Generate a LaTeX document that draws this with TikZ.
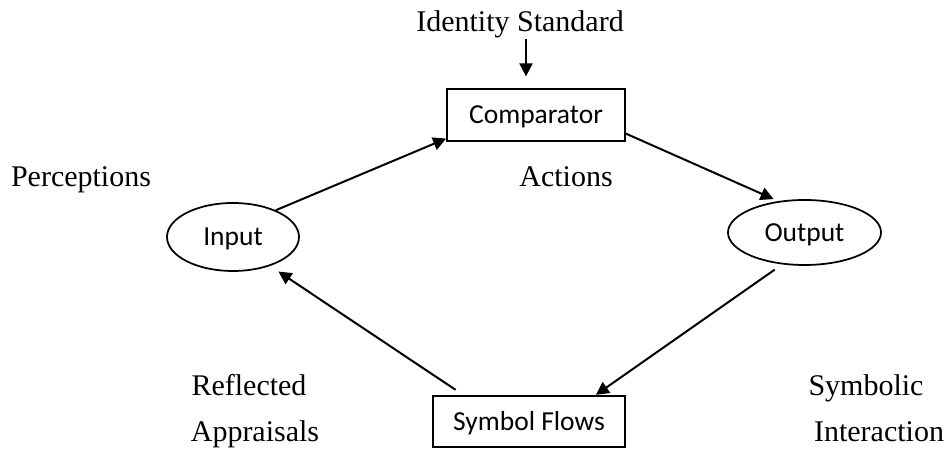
\documentclass[tikz,border=0pt]{standalone}
\usepackage{fontspec}
\setmainfont{Liberation Serif}
\newfontfamily\boxfont{Carlito}
\usetikzlibrary{arrows.meta,shapes.geometric}

\begin{document}
\begin{tikzpicture}[
  x=0.4pt, y=-0.4pt,
  font=\fontsize{12}{14}\selectfont,
  word/.style={anchor=base, inner sep=0pt},
  box/.style={
    draw, line width=0.7pt, inner sep=0pt,
    font=\boxfont\fontsize{11}{13}\selectfont,
    text height=7pt, text depth=0pt,
  },
  stage/.style={box, minimum height=20.6pt},
  port/.style={box, ellipse},
  flow/.style={-{Triangle[length=5.2pt, width=5.2pt]}, line width=0.8pt},
]
\useasboundingbox (0,0) rectangle (947,450);

% ---- Control loop: comparator, input/output, symbol flows ----------------
\node[stage, minimum width=71.2pt] (cmp) at (536,115) {Comparator};
\node[port, minimum width=52.8pt, minimum height=27.2pt] (in)  at (233,237) {Input};
\node[port, minimum width=61.2pt, minimum height=26pt]   (out) at (804.5,232.5) {Output};
\node[stage, minimum width=76.8pt] (sf) at (529,421.5) {Symbol Flows};

% ---- Free labels ----------------------------------------------------------
\node[word] (ident) at (520,32)  {Identity Standard};
\node[word] (perc)  at (81,187)  {Perceptions};
\node[word] (act)   at (566,187) {Actions};
\node[word] (refl)  at (249,396) {Reflected};
\node[word] (appr)  at (255,442) {Appraisals};
\node[word] (symb)  at (866,396) {Symbolic};
\node[word] (inter) at (879,442) {Interaction};

% ---- Flows ----------------------------------------------------------------
\draw[flow, shorten >=4.8pt] ([xshift=2.4pt]ident.south) -- ([xshift=2.4pt]ident.south |- cmp.north);
\draw[flow] (in.32) -- ([yshift=1.2pt]cmp.south west);
\draw[flow, shorten >=2pt] ([yshift=3.2pt]cmp.south east) -- (out.130);
\draw[flow, shorten <=3.6pt] (out.235) -- ([xshift=-12pt]sf.north east);
\draw[flow, shorten <=3.6pt, shorten >=4pt] ([xshift=12.4pt]sf.north west) -- (in.-38);

\end{tikzpicture}
\end{document}
